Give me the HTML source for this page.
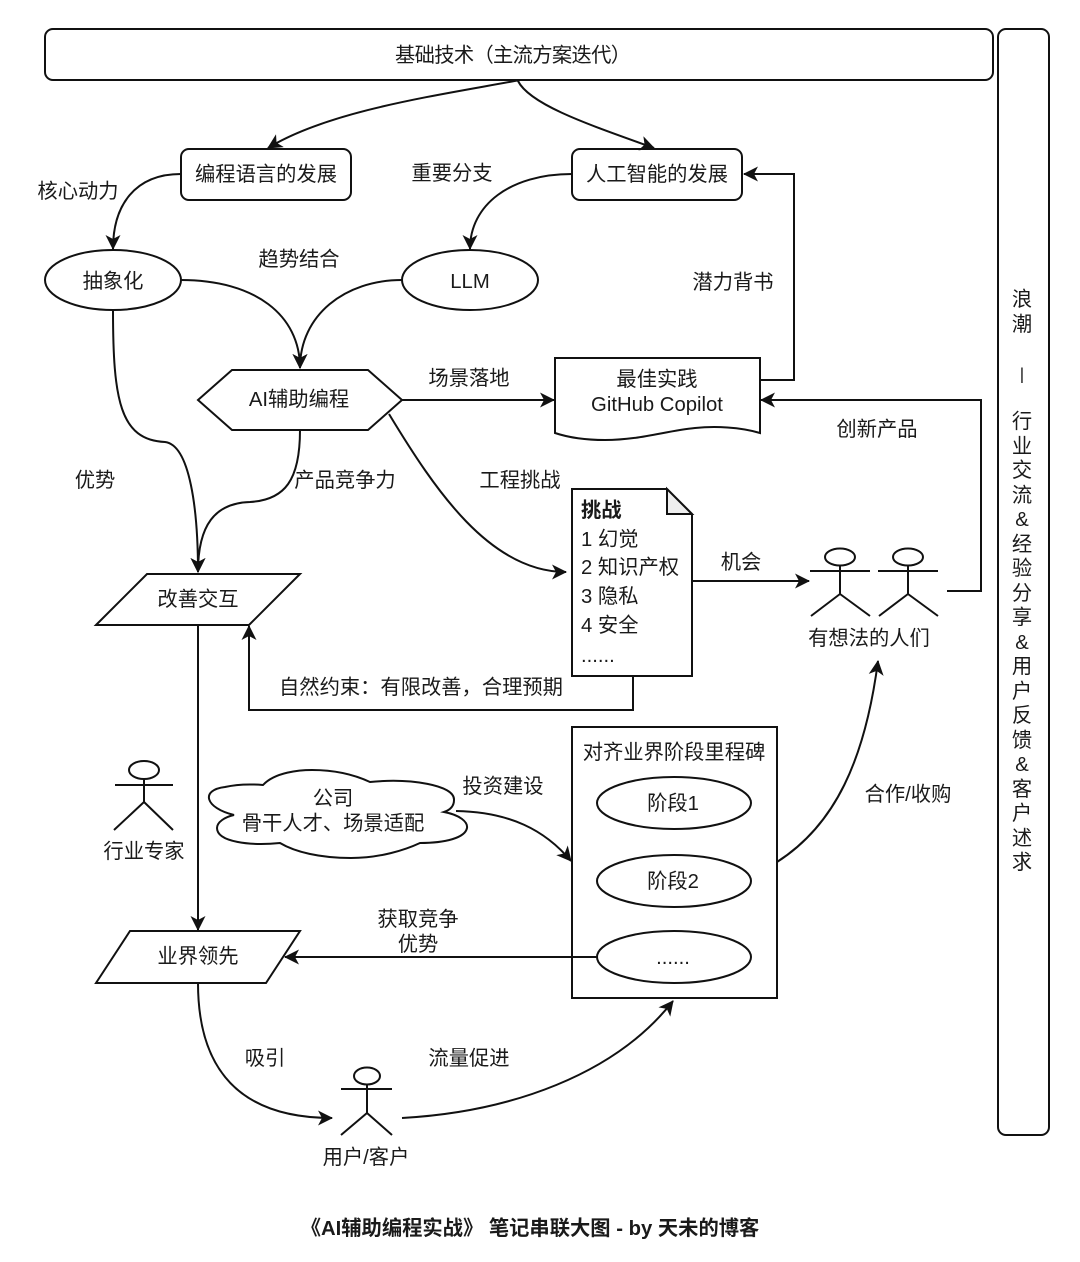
<!DOCTYPE html>
<html><head><meta charset="utf-8">
<style>
html,body{margin:0;padding:0;background:#fff}
svg{display:block}
text{font-family:"Liberation Sans","Noto Sans CJK SC",sans-serif;font-size:20.3px;fill:#1a1a1a;text-anchor:middle;dominant-baseline:central;transform:translateY(2px)}
.l{text-anchor:start}
.s{fill:#fff;stroke:#111;stroke-width:2}
.c{fill:none;stroke:#111;stroke-width:2}
</style></head><body>
<svg width="1080" height="1262" viewBox="0 0 1080 1262" xmlns="http://www.w3.org/2000/svg">
<defs>
<marker id="ar" markerUnits="userSpaceOnUse" markerWidth="17" markerHeight="17" refX="14" refY="7.5" orient="auto">
<path d="M0,0 L15,7.5 L0,15 L4,7.5 Z" fill="#111"/>
</marker>
</defs>

<rect class="s" x="45" y="29" width="948" height="51" rx="8"/>
<text x="513" y="54" textLength="236" lengthAdjust="spacing">基础技术（主流方案迭代）</text>
<rect class="s" x="998" y="29" width="51" height="1106" rx="8"/>
<g>
<text x="1022" y="298">浪</text><text x="1022" y="323">潮</text>
<text x="1022" y="372" style="font-size:17px">|</text>
<text x="1022" y="420">行</text><text x="1022" y="445">业</text><text x="1022" y="469">交</text><text x="1022" y="494">流</text><text x="1022" y="518">&amp;</text>
<text x="1022" y="543">经</text><text x="1022" y="567">验</text><text x="1022" y="592">分</text><text x="1022" y="616">享</text><text x="1022" y="641">&amp;</text>
<text x="1022" y="665">用</text><text x="1022" y="690">户</text><text x="1022" y="714">反</text><text x="1022" y="739">馈</text><text x="1022" y="763">&amp;</text>
<text x="1022" y="788">客</text><text x="1022" y="812">户</text><text x="1022" y="837">述</text><text x="1022" y="861">求</text>
</g>

<!-- nodes -->
<rect class="s" x="181" y="149" width="170" height="51" rx="8"/>
<text x="266" y="173">编程语言的发展</text>
<rect class="s" x="572" y="149" width="170" height="51" rx="8"/>
<text x="657" y="173">人工智能的发展</text>
<ellipse class="s" cx="113" cy="280" rx="68" ry="30"/>
<text x="113" y="280">抽象化</text>
<ellipse class="s" cx="470" cy="280" rx="68" ry="30"/>
<text x="470" y="280">LLM</text>
<polygon class="s" points="198,400 232,370 368,370 402,400 368,430 232,430"/>
<text x="299" y="398">AI辅助编程</text>
<path class="s" d="M555,358 L760,358 L760,433 C740,427 715,426 695,428 C665,431 640,440 605,440 C585,440 570,438 555,433 Z"/>
<text x="657" y="378">最佳实践</text>
<text x="657" y="403">GitHub Copilot</text>
<path class="s" d="M572,489 L667,489 L692,514 L692,676 L572,676 Z"/>
<path d="M667,489 L667,514 L692,514 Z" fill="#eee" stroke="#111" stroke-width="2"/>
<text class="l" x="581" y="509" style="font-weight:bold">挑战</text>
<text class="l" x="581" y="538">1 幻觉</text>
<text class="l" x="581" y="566">2 知识产权</text>
<text class="l" x="581" y="595">3 隐私</text>
<text class="l" x="581" y="624">4 安全</text>
<text class="l" x="581" y="654">......</text>
<polygon class="s" points="96,625 147,574 300,574 249,625"/>
<text x="198" y="598">改善交互</text>
<polygon class="s" points="96,983 130,931 300,931 266,983"/>
<text x="198" y="955">业界领先</text>
<path class="s" d="M234,815 C205,808 200,790 225,787 C238,784 250,784 263,785 C275,772 300,770 312,770 C335,770 355,775 370,782 C410,778 455,785 454,800 C454,806 450,810 444,812 C460,815 468,822 467,828 C465,838 445,843 420,843 C405,850 380,858 351,858 C320,858 295,852 280,843 C250,846 217,842 217,828 C217,822 225,817 234,815 Z"/>
<text x="333" y="797">公司</text>
<text x="333" y="822">骨干人才、场景适配</text>
<rect class="s" x="572" y="727" width="205" height="271"/>
<text x="674" y="751">对齐业界阶段里程碑</text>
<ellipse class="s" cx="674" cy="803" rx="77" ry="26"/>
<text x="673" y="802">阶段1</text>
<ellipse class="s" cx="674" cy="881" rx="77" ry="26"/>
<text x="673" y="880">阶段2</text>
<ellipse class="s" cx="674" cy="957" rx="77" ry="26"/>
<text x="673" y="956">......</text>

<!-- connectors -->
<path class="c" marker-end="url(#ar)" d="M520,80 C440,95 330,110 268,148"/>
<path class="c" marker-end="url(#ar)" d="M518,81 C530,105 590,125 654,148"/>
<path class="c" marker-end="url(#ar)" d="M181,174 C135,174 113,205 113,249"/>
<path class="c" marker-end="url(#ar)" d="M572,174 C510,174 470,205 470,249"/>
<path class="c" marker-end="url(#ar)" d="M181,280 C255,280 300,315 300,368"/>
<path class="c" marker-end="url(#ar)" d="M402,280 C345,280 300,315 300,368"/>
<path class="c" marker-end="url(#ar)" d="M113,310 C113,400 120,440 165,442 C190,445 198,510 198,572"/>
<path class="c" marker-end="url(#ar)" d="M300,430 C300,480 285,500 250,502 C215,503 198,525 198,572"/>
<path class="c" marker-end="url(#ar)" d="M402,400 L554,400"/>
<path class="c" marker-end="url(#ar)" d="M760,380 L794,380 L794,174 L744,174"/>
<path class="c" marker-end="url(#ar)" d="M947,591 L981,591 L981,400 L761,400"/>
<path class="c" marker-end="url(#ar)" d="M389,414 C435,490 490,572 566,572"/>
<path class="c" marker-end="url(#ar)" d="M692,581 L809,581"/>
<path class="c" marker-end="url(#ar)" d="M633,676 L633,710 L249,710 L249,626"/>
<path class="c" marker-end="url(#ar)" d="M198,625 L198,930"/>
<path class="c" marker-end="url(#ar)" d="M456,811 C510,812 545,830 571,861"/>
<path class="c" marker-end="url(#ar)" d="M598,957 L285,957"/>
<path class="c" marker-end="url(#ar)" d="M777,862 C835,825 865,760 878,661"/>
<path class="c" marker-end="url(#ar)" d="M198,983 C198,1070 240,1118 332,1118"/>
<path class="c" marker-end="url(#ar)" d="M402,1118 C510,1112 615,1075 673,1001"/>

<!-- actors -->
<g class="c">
<ellipse cx="840" cy="557" rx="15" ry="8.5"/><path d="M840,566 L840,594 M810,571 L870,571 M840,594 L811,616 M840,594 L870,616"/>
<ellipse cx="908" cy="557" rx="15" ry="8.5"/><path d="M908,566 L908,594 M878,571 L938,571 M908,594 L879,616 M908,594 L938,616"/>
<ellipse cx="144" cy="770" rx="15" ry="9"/><path d="M144,779 L144,802 M115,785 L173,785 M144,802 L114,830 M144,802 L173,830"/>
<ellipse cx="367" cy="1076" rx="13" ry="8.5"/><path d="M367,1085 L367,1113 M341,1089 L392,1089 M367,1113 L341,1135 M367,1113 L392,1135"/>
</g>

<!-- labels -->
<text x="78" y="190">核心动力</text>
<text x="452" y="172">重要分支</text>
<text x="299" y="258">趋势结合</text>
<text x="733" y="281">潜力背书</text>
<text x="469" y="377">场景落地</text>
<text x="877" y="428">创新产品</text>
<text x="95" y="479">优势</text>
<text x="345" y="479">产品竞争力</text>
<text x="520" y="479">工程挑战</text>
<text x="741" y="561">机会</text>
<text x="869" y="637">有想法的人们</text>
<text x="421" y="686">自然约束：有限改善，合理预期</text>
<text x="144" y="850">行业专家</text>
<text x="503" y="785">投资建设</text>
<text x="908" y="793">合作/收购</text>
<text x="418" y="918">获取竞争</text>
<text x="418" y="943">优势</text>
<text x="265" y="1057">吸引</text>
<text x="469" y="1057">流量促进</text>
<text x="366" y="1156">用户/客户</text>
<text x="530" y="1227" style="font-weight:bold">《AI辅助编程实战》 笔记串联大图 - by 天未的博客</text>
</svg>
</body></html>
